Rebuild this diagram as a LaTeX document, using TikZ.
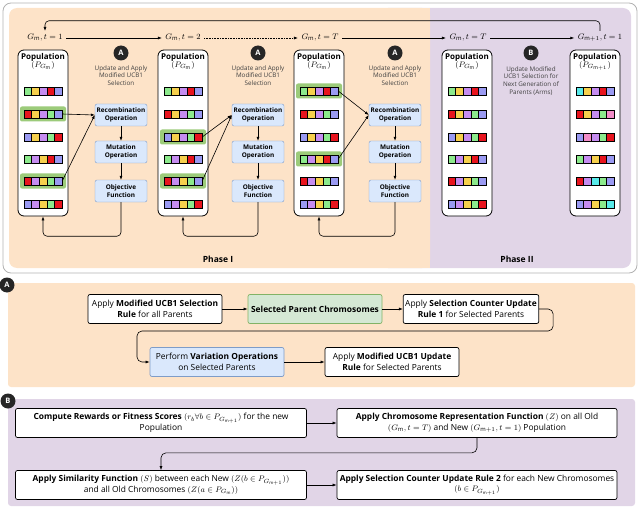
\documentclass[tikz,border=0pt]{standalone}
\usepackage{fontspec}
\setmainfont{Open Sans}
\usepackage{amsmath}
\usetikzlibrary{arrows.meta,positioning,fit}
\definecolor{orbg}{HTML}{FDE3C8}
\definecolor{pubg}{HTML}{E1D5E7}
\definecolor{opfill}{HTML}{DAE8FC}
\definecolor{opline}{HTML}{7E9CC8}
\definecolor{hlfill}{HTML}{9CCB7A}
\definecolor{selfill}{HTML}{D5E8D4}
\definecolor{selline}{HTML}{82B366}
\definecolor{gG}{HTML}{8CEA8C}
\definecolor{yY}{HTML}{F6D04D}
\definecolor{pP}{HTML}{C58CF0}
\definecolor{rR}{HTML}{E8141E}
\definecolor{bB}{HTML}{9A9AF2}
\definecolor{cC}{HTML}{58EAEA}
\definecolor{kK}{HTML}{F28CC8}
\tikzset{
  pop/.style={draw, rounded corners=6pt, line width=0.8pt, fill=white},
  op/.style={draw=opline, fill=opfill, rounded corners=2pt, minimum width=52pt,
             minimum height=22pt, align=center, inner sep=1pt, font=\fontsize{6.4}{7.6}\selectfont\bfseries},
  proc/.style={draw, fill=white, rounded corners=2pt, align=center, line width=0.7pt,
               minimum height=29pt, inner sep=2pt, font=\fontsize{8.4}{10.5}\selectfont},
  badge/.style={circle, fill=black!85, text=white, inner sep=0pt, minimum size=15pt,
               font=\fontsize{7.5}{8}\selectfont\bfseries},
  note/.style={align=center, text=black!75, font=\fontsize{6.3}{7.8}\selectfont},
  gen/.style={font=\fontsize{8.5}{9}\selectfont},
  line/.style={draw, -{Latex[length=4pt]}, line width=0.6pt},
  chr/.style={inner sep=0pt, minimum width=38pt, minimum height=7.6pt}
}
% chromosome: name, x, y, colours
\newcommand\chrom[4]{%
  \node[chr] (#1) at (#2,#3) {};
  \foreach \cc [count=\i] in {#4}
    \filldraw[fill=\cc, draw=black, line width=0.5pt] ({#2-19+(\i-1)*7.6},{#3-3.8}) rectangle ++(7.6,7.6);}
\newcommand\hlite[2]{\fill[hlfill, rounded corners=2pt] ({#1-23},{#2-7.5}) rectangle ({#1+23},{#2+7.5});}

\begin{document}
\begin{tikzpicture}[x=1pt, y=-1pt]
  \useasboundingbox (0,0) rectangle (640,508);

  % top panel
  \draw[black!30, line width=0.8pt, rounded corners=8pt] (3,3) rectangle (637,273);
  \fill[pubg, rounded corners=8pt] (380,8) rectangle (631,268);
  \fill[orbg, rounded corners=8pt] (9,8) rectangle (430,268);
  \fill[orbg] (380,8) rectangle (430,268);

  \node[gen] (g1) at (45,38) {$G_\mathrm{m}, t=1$};
  \node[gen] (g2) at (183,38) {$G_\mathrm{m}, t=2$};
  \node[gen] (g3) at (320,38) {$G_\mathrm{m}, t=T$};
  \node[gen] (g4) at (468,38) {$G_\mathrm{m}, t=T$};
  \node[gen] (g5) at (600,38) {$G_{\mathrm{m}+1}, t=1$};
  \path[line] (g1) -- (g2);
  \path[line, densely dotted] (g2) -- (g3);
  \path[line] (g3) -- (g4);
  \path[line] (g4) -- (g5);
  \draw[line, rounded corners=4pt] (g5.north) -- ++(0,-10) -| (g1.north);

  % populations
  \foreach \k/\px/\sub in {1/43/{\mathrm{m}},2/183/{\mathrm{m}},3/319/{\mathrm{m}},4/467/{\mathrm{m}},5/595/{\mathrm{m}+1}} {
    \node[pop, minimum width=50pt, minimum height=166pt] (pop\k) at (\px,133) {};
    \node[align=center, font=\fontsize{8}{9}\selectfont\bfseries, below=0pt of pop\k.north] (pt\k)
      {Population\\[-1pt]\mdseries$(P_{G_{\sub}})$};
  }

  \hlite{43}{114} \hlite{43}{181}
  \hlite{183}{137} \hlite{183}{181}
  \hlite{319}{91} \hlite{319}{159}
  \foreach \k/\px in {1/43,2/183,3/319,4/467} {
    \chrom{c\k r1}{\px}{91}{gG,yY,pP,rR,bB}
    \chrom{c\k r2}{\px}{114}{rR,yY,pP,gG,bB}
    \chrom{c\k r3}{\px}{137}{bB,yY,pP,gG,rR}
    \chrom{c\k r4}{\px}{159}{gG,pP,yY,rR,bB}
    \chrom{c\k r5}{\px}{181}{rR,pP,yY,gG,bB}
    \chrom{c\k r6}{\px}{204}{bB,pP,yY,gG,rR}
  }
  \chrom{c5r1}{595}{91}{cC,yY,pP,rR,bB}
  \chrom{c5r2}{595}{114}{rR,yY,pP,gG,kK}
  \chrom{c5r3}{595}{137}{bB,kK,pP,gG,rR}
  \chrom{c5r4}{595}{159}{gG,pP,yY,rR,bB}
  \chrom{c5r5}{595}{181}{rR,pP,cC,gG,bB}
  \chrom{c5r6}{595}{204}{bB,pP,yY,gG,cC}

  % operations
  \foreach \k/\ox in {1/121,2/258,3/395} {
    \node[badge] (ma\k) at (\ox,53) {A};
    \node[note, below=1pt of ma\k] {Update and Apply\\Modified UCB1\\Selection};
    \node[op] (rec\k) at (\ox,115) {Recombination\\Operation};
    \node[op] (mut\k) at (\ox,152) {Mutation\\Operation};
    \node[op] (obj\k) at (\ox,191) {Objective\\Function};
    \path[line] (rec\k) -- (mut\k);
    \path[line] (mut\k) -- (obj\k);
  }
  \draw[line, rounded corners=4pt] (obj1.south) -- ++(0,34) -| (pop1.south);
  \draw[line, rounded corners=4pt] (obj2.south) -- ++(0,34) -| (pop2.south);
  \draw[line, rounded corners=4pt] (obj3.south) -- ++(0,34) -| (pop3.south);
  \path[line] (c1r2.east) -- (rec1.west);
  \path[line] (c1r5.east) -- (rec1.west);
  \path[line] (c2r3.east) -- (rec2.west);
  \path[line] (c2r5.east) -- (rec2.west);
  \path[line] (c3r1.east) -- (rec3.west);
  \path[line] (c3r4.east) -- (rec3.west);

  \node[badge] (mb) at (531,53) {B};
  \node[note, below=2pt of mb] {Update Modified\\UCB1 Selection for\\Next Generation of\\Parents (Arms)};
  \node[font=\fontsize{8.5}{9}\selectfont\bfseries] (ph1) at (218,259) {Phase I};
  \node[font=\fontsize{8.5}{9}\selectfont\bfseries] (ph2) at (517,259) {Phase II};

  % panel A
  \fill[orbg, rounded corners=3pt] (8,283) rectangle (635,387);
  \node[badge] (pa) at (7,285) {A};
  \node[proc, minimum width=134pt] (a1) at (155,309) {Apply \textbf{Modified UCB1 Selection}\\\textbf{Rule} for all Parents};
  \node[proc, minimum width=134pt, fill=selfill, draw=selline, font=\fontsize{8.4}{10.5}\selectfont\bfseries] (a2) at (315,309) {Selected Parent Chromosomes};
  \node[proc, minimum width=134pt] (a3) at (471,309) {Apply \textbf{Selection Counter Update}\\\textbf{Rule 1} for Selected Parents};
  \node[proc, minimum width=134pt, fill=opfill, draw=opline] (a4) at (217,362) {Perform \textbf{Variation Operations}\\on Selected Parents};
  \node[proc, minimum width=134pt] (a5) at (392,362) {Apply \textbf{Modified UCB1 Update}\\\textbf{Rule} for Selected Parents};
  \path[line] (a1) -- (a2);
  \path[line] (a2) -- (a3);
  \draw[line, rounded corners=5pt] (a3.east) -- ++(14,0) |- (137,331) |- (a4.west);
  \path[line] (a4) -- (a5);

  % panel B
  \fill[pubg, rounded corners=3pt] (8,399) rectangle (635,506);
  \node[badge] (pb) at (8,401) {B};
  \node[proc, minimum width=291pt] (b1) at (161,423) {\textbf{Compute Rewards or Fitness Scores} $(r_b\forall b\in P_{G_{\mathrm{m}+1}})$ for the new\\Population};
  \node[proc, minimum width=280pt] (b2) at (477,423) {\textbf{Apply Chromosome Representation Function} $(Z)$ on all Old\\$(G_\mathrm{m}, t=T)$ and New $(G_{\mathrm{m}+1}, t=1)$ Population};
  \node[proc, minimum width=291pt] (b3) at (161,485) {\textbf{Apply Similarity Function} $(S)$ between each New $(Z(b\in P_{G_{\mathrm{m}+1}}))$\\and all Old Chromosomes $(Z(a\in P_{G_\mathrm{m}}))$};
  \node[proc, minimum width=280pt] (b4) at (477,485) {\textbf{Apply Selection Counter Update Rule 2} for each New Chromosomes\\$(b\in P_{G_{\mathrm{m}+1}})$};
  \path[line] (b1) -- (b2);
  \draw[line, rounded corners=5pt] (b2.south) -- ++(0,15) -| (b3.north);
  \path[line] (b3) -- (b4);
\end{tikzpicture}
\end{document}
